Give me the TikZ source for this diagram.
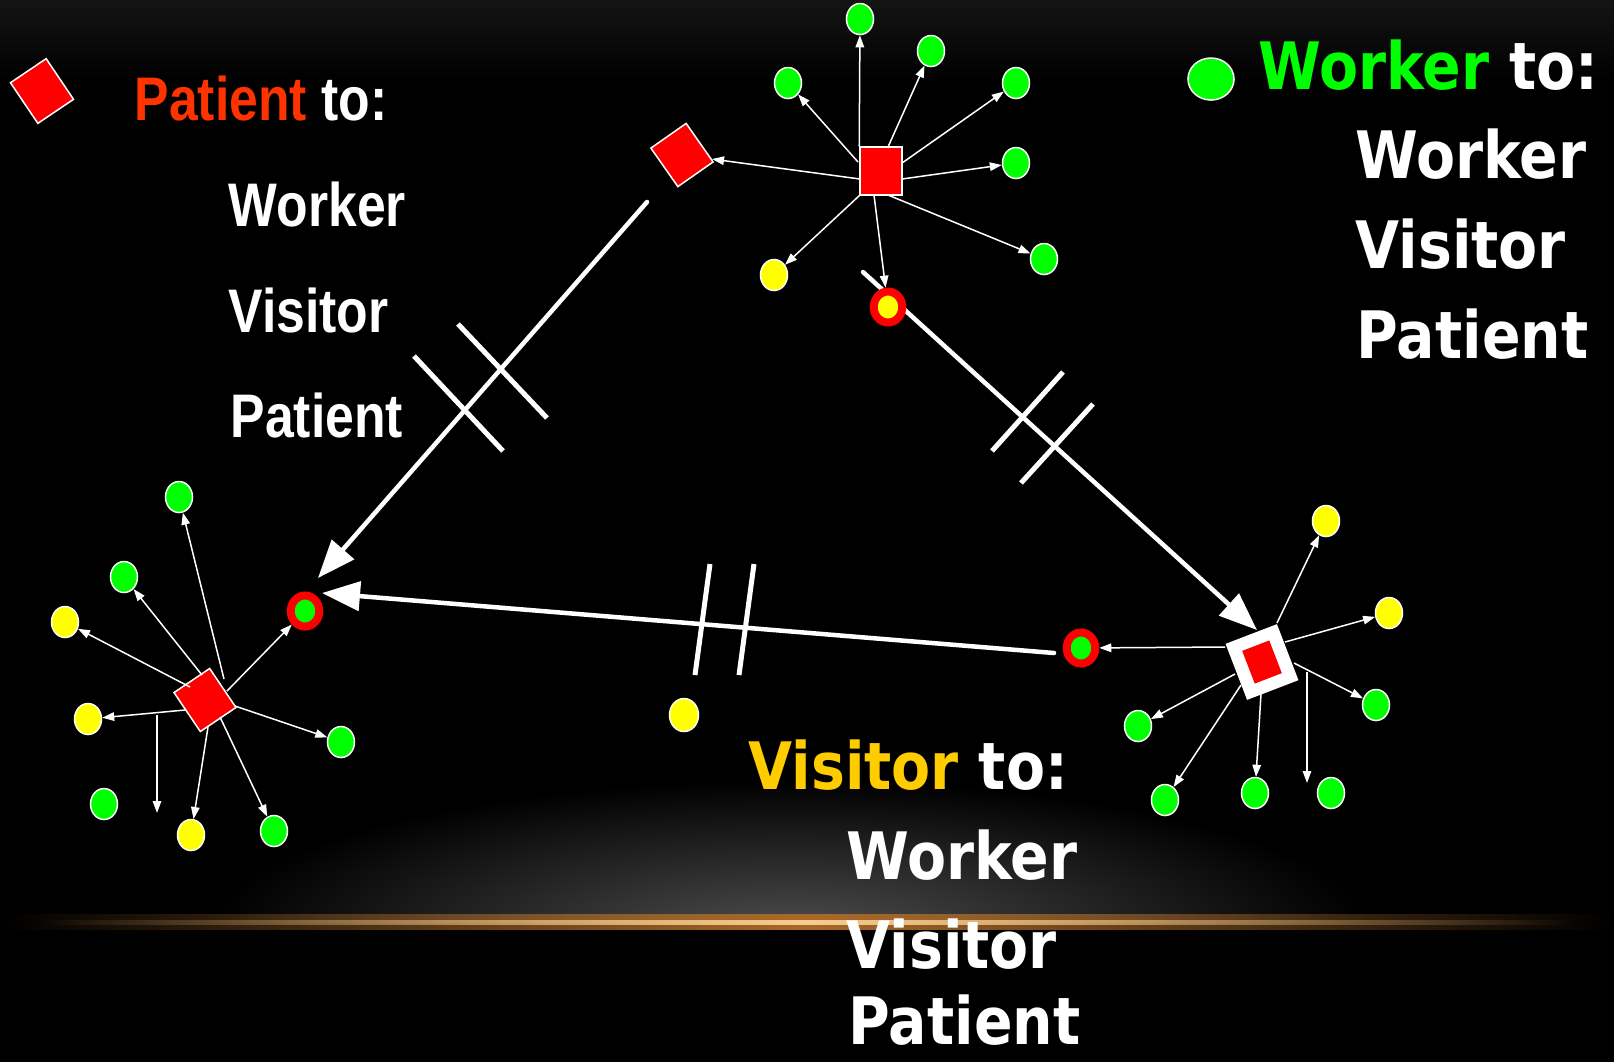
\documentclass[tikz,border=0pt]{standalone}
\usepackage{fontspec}
\usepackage{tikz}
\usetikzlibrary{arrows.meta,shapes.geometric,fadings}
\newfontfamily\narrowsans[FakeStretch=0.84]{Liberation Sans}
\newfontfamily\widesans[FakeStretch=0.87]{DejaVu Sans}
\definecolor{ptred}{RGB}{255,51,0}
\definecolor{wkgreen}{RGB}{0,255,0}
\definecolor{vsgold}{RGB}{255,204,0}
\definecolor{dotyellow}{RGB}{255,255,0}
\definecolor{lineorange}{RGB}{170,105,40}
\definecolor{linecore}{RGB}{245,205,140}
\tikzfading[name=midfade, left color=transparent!100, right color=transparent!100, middle color=transparent!0]

\begin{document}
\begin{tikzpicture}[x=0.01cm, y=-0.01cm,
  gdot/.style={ellipse, draw=white, line width=0.15mm, fill=wkgreen, minimum width=2.7mm, minimum height=3.1mm, inner sep=0},
  ydot/.style={gdot, fill=dotyellow},
  gring/.style={ellipse, draw=red, line width=0.8mm, fill=wkgreen, minimum width=2.85mm, minimum height=3.1mm, inner sep=0},
  yring/.style={gring, fill=dotyellow},
  pbox/.style={rectangle, draw=white, line width=0.15mm, fill=red, minimum width=4.3mm, minimum height=4.7mm, inner sep=0},
  arr/.style={white, line width=0.15mm, -{Triangle[length=1.2mm,width=0.85mm]}},
  bigarr/.style={white, line width=0.45mm, line cap=round, -{Triangle[length=3.8mm,width=2.9mm]}},
  hatch/.style={white, line width=0.5mm},
  lefttxt/.style={anchor=base west, inner sep=0, text=white, font=\narrowsans\bfseries\fontsize{17.5pt}{21pt}\selectfont},
  righttxt/.style={anchor=base west, inner sep=0, text=white, font=\widesans\bfseries\fontsize{18.6pt}{22pt}\selectfont}]
\useasboundingbox (0,0) rectangle (1614,1062);
\fill[black] (0,0) rectangle (1614,1062);
\shade[top color=black!92, bottom color=black] (0,0) rectangle (1614,80);
\begin{scope}
  \clip (0,600) rectangle (1614,922);
  \shade[inner color=black!70, outer color=black] (790,930) ellipse (5.8cm and 1.5cm);
\end{scope}
\fill[lineorange, path fading=midfade] (0,914) rectangle (1614,930);
\fill[linecore, path fading=midfade] (40,919.5) rectangle (1574,924.5);

\coordinate (a1s) at (647,202);
\coordinate (a1e) at (318,578);
\coordinate (a2s) at (863,272);
\coordinate (a2e) at (1257,630);
\coordinate (a3s) at (1054,653);
\coordinate (a3e) at (322,593);
\draw[bigarr] (a1s) -- (a1e);
\draw[bigarr] (a2s) -- (a2e);
\draw[bigarr] (a3s) -- (a3e);
\draw[hatch] (458,324) -- (547,418);
\draw[hatch] (414,356) -- (503,451);
\draw[hatch] (1063,372) -- (992,451);
\draw[hatch] (1093,404) -- (1021,483);
\draw[hatch] (710,564) -- (695,675);
\draw[hatch] (754,564) -- (739,675);

\node[pbox, rotate=34, minimum height=4.9mm] (legp) at (42,91) {};
\node[gdot, minimum width=4.6mm, minimum height=4.2mm] (legw) at (1211,79) {};

\node[pbox, minimum width=4.2mm, minimum height=4.8mm] (thub) at (881,171) {};
\node[pbox, rotate=35] (tdia) at (682,155) {};
\node[gdot] (t1) at (860,19) {};
\node[gdot] (t2) at (931,51) {};
\node[gdot] (t3) at (788,83) {};
\node[gdot] (t4) at (1016,83) {};
\node[gdot] (t5) at (1016,163) {};
\node[gdot] (t6) at (1044,259) {};
\node[ydot] (t7) at (774,275) {};
\node[yring] (tring) at (888,307) {};
\draw[arr] (thub.north west) -- (t1);
\draw[arr] ([shift={(7,-24)}]thub.center) -- (t2);
\draw[arr] ([shift={(-23,-9)}]thub.center) -- (t3);
\draw[arr] ([shift={(21,-8)}]thub.center) -- (t4);
\draw[arr] ([shift={(21,8)}]thub.center) -- (t5);
\draw[arr] ([shift={(7,24)}]thub.center) -- (t6);
\draw[arr] ([shift={(-21,24)}]thub.center) -- (t7);
\draw[arr] ([shift={(-7,24)}]thub.center) -- (tring);
\draw[arr] ([shift={(-21,8)}]thub.center) -- (tdia);

\node[pbox, rotate=34] (lhub) at (205,700) {};
\node[gdot] (l1) at (179,497) {};
\node[gdot] (l2) at (124,577) {};
\node[ydot] (l3) at (65,622) {};
\node[ydot] (l4) at (88,719) {};
\node[gdot] (l5) at (104,804) {};
\node[ydot] (l6) at (191,835) {};
\node[gdot] (l7) at (274,831) {};
\node[gdot] (l8) at (341,742) {};
\node[gring] (lring) at (305,611) {};
\coordinate (lfs) at (157,715);
\coordinate (lfe) at (157,813);
\draw[arr] ([shift={(19,-21)}]lhub.center) -- (l1);
\draw[arr] ([shift={(-3,-25)}]lhub.center) -- (l2);
\draw[arr] ([shift={(-15,-13)}]lhub.center) -- (l3);
\draw[arr] ([shift={(-20,10)}]lhub.center) -- (l4);
\draw[arr] (lfs) -- (lfe);
\draw[arr] ([shift={(3,27)}]lhub.center) -- (l6);
\draw[arr] ([shift={(15,17)}]lhub.center) -- (l7);
\draw[arr] ([shift={(30,6)}]lhub.center) -- (l8);
\draw[arr] ([shift={(22,-9)}]lhub.center) -- (lring);

\node[rectangle, fill=white, rotate=21, minimum width=5.5mm, minimum height=6mm, inner sep=0] (rhub) at (1262,662) {};
\node[rectangle, fill=red, rotate=21, minimum width=2.9mm, minimum height=3.5mm, inner sep=0] (rcore) at (rhub) {};
\node[ydot] (r1) at (1326,521) {};
\node[ydot] (r2) at (1389,613) {};
\node[gdot] (r3) at (1376,705) {};
\node[gdot] (r4) at (1138,726) {};
\node[gdot] (r5) at (1165,800) {};
\node[gdot] (r6) at (1255,793) {};
\node[gdot] (r7) at (1331,793) {};
\node[gring] (rring) at (1081,648) {};
\coordinate (rfs) at (1307,672);
\coordinate (rfe) at (1307,783);
\draw[arr] ([shift={(-37,-15)}]rhub.center) -- (rring);
\draw[arr] ([shift={(15,-39)}]rhub.center) -- (r1);
\draw[arr] ([shift={(23,-20)}]rhub.center) -- (r2);
\draw[arr] ([shift={(32,1)}]rhub.center) -- (r3);
\draw[arr] (rfs) -- (rfe);
\draw[arr] ([shift={(-1,32)}]rhub.center) -- (r6);
\draw[arr] ([shift={(-21,23)}]rhub.center) -- (r5);
\draw[arr] ([shift={(-27,12)}]rhub.center) -- (r4);

\node[ydot, minimum width=2.9mm, minimum height=3.3mm] (vlone) at (684,715) {};

\node[lefttxt] (ptitle) at (134,120) {\textcolor{ptred}{Patient} to:};
\node[lefttxt] (pworker) at (228,226) {Worker};
\node[lefttxt] (pvisitor) at (228,332) {Visitor};
\node[lefttxt] (ppatient) at (230,437) {Patient};

\node[righttxt] (wtitle) at (1258,89) {\textcolor{wkgreen}{Worker} to:};
\node[righttxt] (wworker) at (1355,178) {Worker};
\node[righttxt] (wvisitor) at (1355,268) {Visitor};
\node[righttxt] (wpatient) at (1356,358) {Patient};

\node[righttxt] (vtitle) at (748,789) {\textcolor{vsgold}{Visitor} to:};
\node[righttxt] (vworker) at (846,879) {Worker};
\node[righttxt] (vvisitor) at (846,968) {Visitor};
\node[righttxt] (vpatient) at (848,1044) {Patient};
\end{tikzpicture}
\end{document}
